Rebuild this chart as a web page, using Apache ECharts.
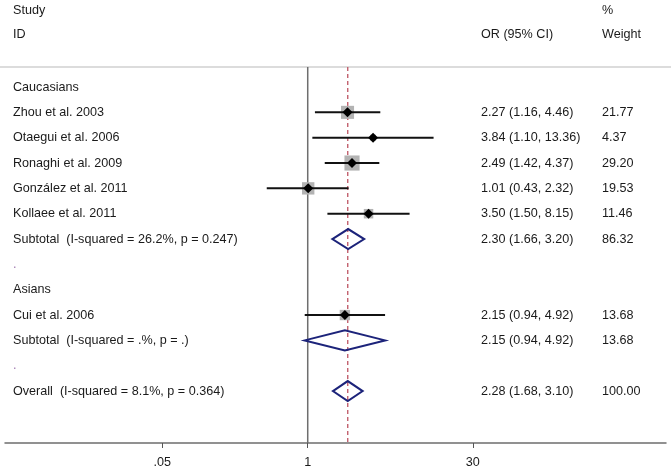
<!DOCTYPE html>
<html>
<head>
<meta charset="utf-8">
<script src="https://cdn.jsdelivr.net/npm/echarts@6/dist/echarts.min.js"></script>
<style>html,body{margin:0;padding:0;background:#fff}#c{width:671px;height:471px}</style>
</head>
<body>
<div id="c"></div>
<script>
// ---- data ----
const rowLabels = ['Caucasians','Zhou et al. 2003','Otaegui et al. 2006','Ronaghi et al. 2009','González et al. 2011','Kollaee et al. 2011','Subtotal  (I-squared = 26.2%, p = 0.247)','.','Asians','Cui et al. 2006','Subtotal  (I-squared = .%, p = .)','.','Overall  (I-squared = 8.1%, p = 0.364)'];
const rowTypes = ['group','study','study','study','study','study','pooled','blank','group','study','pooled','blank','pooled'];
const orValues = [null,2.27,3.84,2.49,1.01,3.50,2.30,null,null,2.15,2.15,null,2.28];
const ciLower  = [null,1.16,1.10,1.42,0.43,1.50,1.66,null,null,0.94,0.94,null,1.68];
const ciUpper  = [null,4.46,13.36,4.37,2.32,8.15,3.20,null,null,4.92,4.92,null,3.10];
const weights  = [null,21.77,4.37,29.20,19.53,11.46,86.32,null,null,13.68,13.68,null,100.00];
const xTickValues = [0.05, 1, 30];
const xTickLabels = ['.05', '1', '30'];
const overallOR = 2.28;
const nullValue = 1;

// ---- layout ----
const FONT = 'Liberation Sans, Arial, sans-serif';
const FS = 12.6;
const TXT = '#1a1a1a';
const X_MIN = -2.708, X_MAX = 3.205;
const Y_MIN = -0.79, Y_MAX = 14.05;
const COL_LABEL = 13, COL_OR = 481, COL_W = 602;

const chart = echarts.init(document.getElementById('c'), null, {renderer:'canvas'});
const lg = v => Math.log10(v);
const tickLogs = xTickValues.map(lg);

const rowData = rowLabels.map((_, i) => [orValues[i] != null ? lg(orValues[i]) : 0, i]);

function rowRender(params, api) {
  const i = params.dataIndex;
  const t = rowTypes[i];
  if (t !== 'study' && t !== 'pooled') return {type:'group', children:[]};
  const c = api.coord([lg(orValues[i]), i]);
  const lo = api.coord([lg(ciLower[i]), i]);
  const hi = api.coord([lg(ciUpper[i]), i]);
  const children = [];
  if (t === 'study') {
    const s = 2.8 * Math.sqrt(weights[i]);
    children.push({type:'rect', shape:{x:c[0]-s/2, y:c[1]-s/2, width:s, height:s}, style:{fill:'#b3b3b3'}});
    children.push({type:'line', shape:{x1:lo[0], y1:c[1], x2:hi[0], y2:c[1]}, style:{stroke:'#111', lineWidth:2}});
    const d = 5;
    children.push({type:'polygon', shape:{points:[[c[0]-d,c[1]],[c[0],c[1]-d],[c[0]+d,c[1]],[c[0],c[1]+d]]}, style:{fill:'#000'}});
  } else {
    const h = 10;
    children.push({type:'polygon', shape:{points:[[lo[0],c[1]],[c[0],c[1]-h],[hi[0],c[1]],[c[0],c[1]+h]]}, style:{fill:'none', stroke:'#1c237a', lineWidth:2}});
  }
  return {type:'group', children};
}

function textRender(params, api) {
  const i = params.dataIndex;
  const y = api.coord([0, i])[1];
  const children = [];
  const blank = rowTypes[i] === 'blank';
  children.push({type:'text', x:COL_LABEL, y:y, style:{text:rowLabels[i], fill: blank ? '#a07ab0' : TXT, font: FS+'px '+FONT, verticalAlign:'middle', align:'left'}});
  if (orValues[i] != null) {
    const s = orValues[i].toFixed(2) + ' (' + ciLower[i].toFixed(2) + ', ' + ciUpper[i].toFixed(2) + ')';
    children.push({type:'text', x:COL_OR, y:y, style:{text:s, fill:TXT, font: FS+'px '+FONT, verticalAlign:'middle', align:'left'}});
    children.push({type:'text', x:COL_W, y:y, style:{text:weights[i].toFixed(2), fill:TXT, font: FS+'px '+FONT, verticalAlign:'middle', align:'left'}});
  }
  return {type:'group', children};
}

function refRender(params, api) {
  const x = api.value(0);
  const top = api.coord([x, Y_MIN]);
  const bot = api.coord([x, Y_MAX]);
  const isNull = params.dataIndex === 0;
  return {type:'line', shape:{x1:top[0], y1:top[1], x2:bot[0], y2:bot[1]},
    style: isNull ? {stroke:'#6e6e6e', lineWidth:1.5} : {stroke:'#c2606e', lineWidth:1.4, lineDash:[4,3]}};
}

const hdr = (text, x, y) => ({type:'text', x, y, style:{text, fill:TXT, font: FS+'px '+FONT, verticalAlign:'middle', align:'left'}});

chart.setOption({
  animation:false,
  backgroundColor:'#fff',
  grid:{left:5, right:5, top:67, bottom:28},
  xAxis:{type:'value', min:X_MIN, max:X_MAX,
    axisLine:{show:true, onZero:false, lineStyle:{color:'#6e6e6e', width:1.5}},
    axisTick:{show:true, customValues:tickLogs, length:5, lineStyle:{color:'#555', width:1}},
    axisLabel:{customValues:tickLogs, margin:13, color:TXT, fontSize:FS, fontFamily:FONT,
      formatter: v => { let b=0; tickLogs.forEach((t,k)=>{ if (Math.abs(t-v) < Math.abs(tickLogs[b]-v)) b=k; }); return xTickLabels[b]; }},
    splitLine:{show:false}},
  yAxis:{type:'value', inverse:true, min:Y_MIN, max:Y_MAX, show:false},
  graphic:[
    {type:'line', shape:{x1:0, y1:67, x2:671, y2:67}, style:{stroke:'#dcdcdc', lineWidth:2}, z:0},
    hdr('Study', COL_LABEL, 11), hdr('ID', COL_LABEL, 35),
    hdr('OR (95% CI)', COL_OR, 35),
    hdr('%', COL_W, 11), hdr('Weight', COL_W, 35)
  ],
  series:[
    {type:'custom', clip:false, z:1, renderItem:refRender, data:[[lg(nullValue)],[lg(overallOR)]], silent:true},
    {type:'custom', clip:false, z:2, renderItem:rowRender, data:rowData, silent:true},
    {type:'custom', clip:false, z:3, renderItem:textRender, data:rowData, silent:true}
  ]
});
</script>
</body>
</html>
